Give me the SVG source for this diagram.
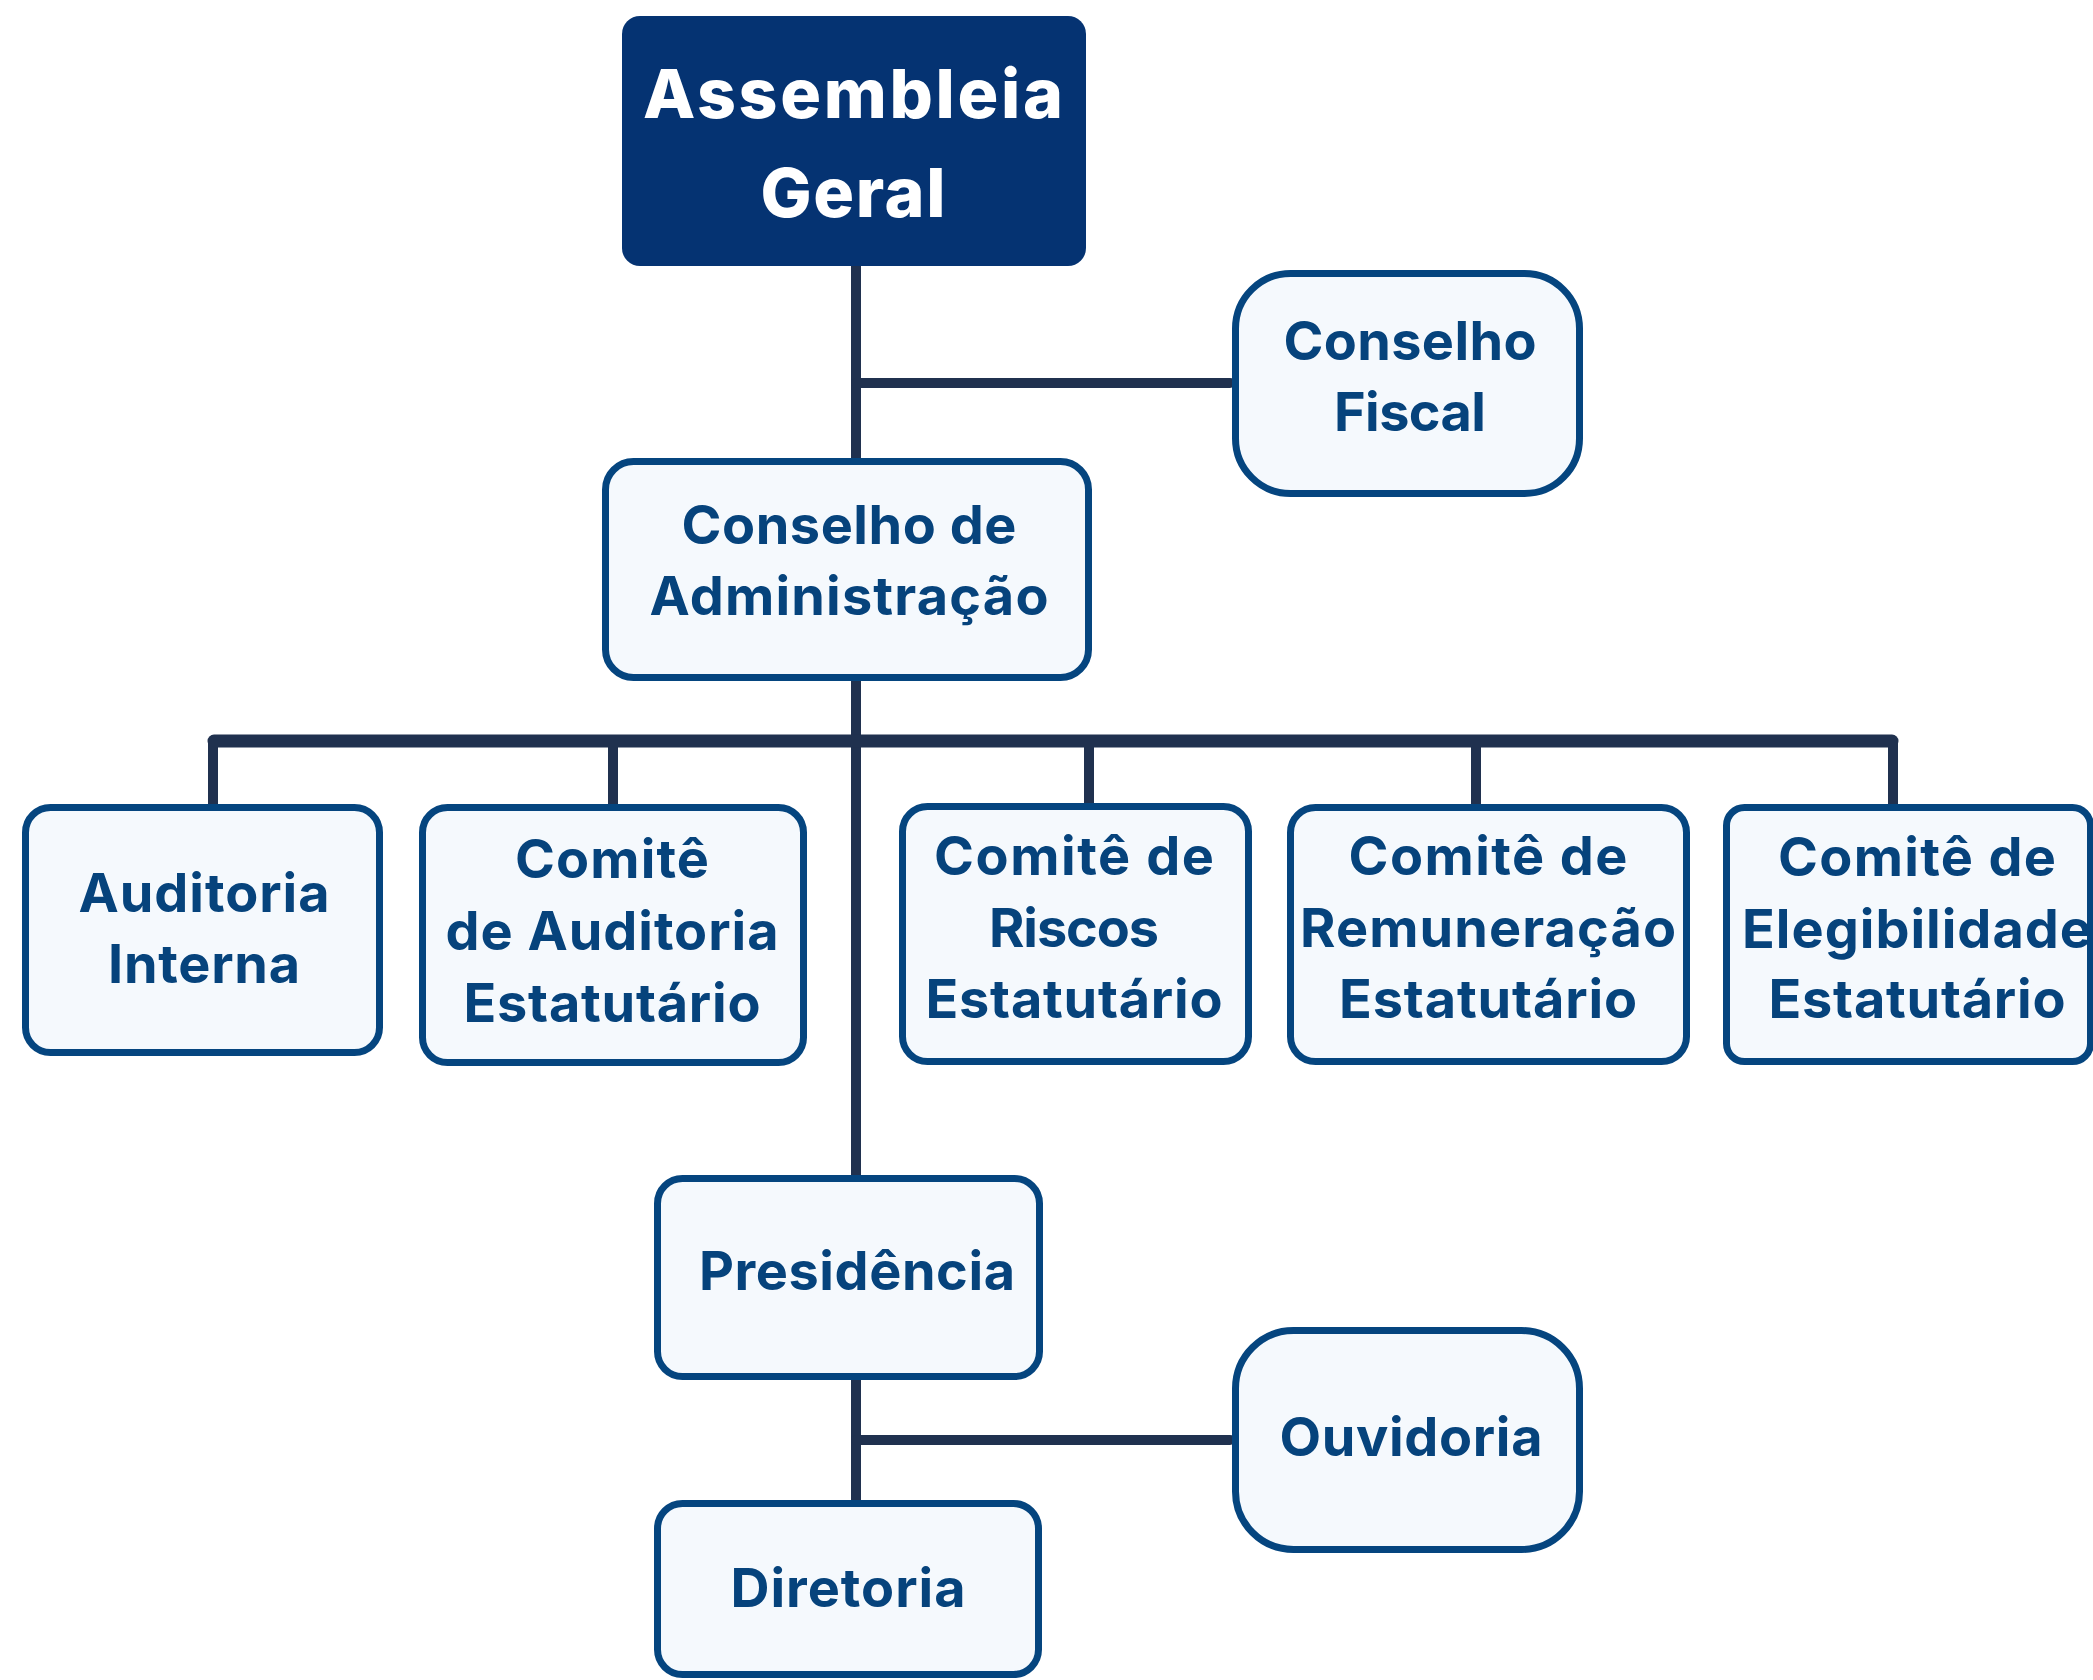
<svg xmlns="http://www.w3.org/2000/svg" width="2093" height="1680" viewBox="0 0 2093 1680">
<style>
.box{fill:#F5F9FD;stroke:#05457F;stroke-width:7}
.t{font-family:Inter,"Open Sans","Liberation Sans",sans-serif;font-weight:700;font-size:54px;fill:#06437C;text-anchor:middle}
.tw{font-family:Inter,"Open Sans","Liberation Sans",sans-serif;font-weight:800;font-size:68px;fill:#FFFFFF;text-anchor:middle}
.ln{stroke:#20314F;stroke-width:10;fill:none;stroke-linecap:butt}
.lr{stroke:#20314F;stroke-width:10;fill:none;stroke-linecap:round}
.bus{stroke:#20314F;stroke-width:13;fill:none;stroke-linecap:round}
</style>
<rect width="2093" height="1680" fill="#FFFFFF"/>
<g id="connectors">
<line class="ln" x1="856" y1="262" x2="856" y2="1505"/>
<line class="lr" x1="856" y1="383" x2="1230" y2="383"/>
<line class="lr" x1="856" y1="1440" x2="1230" y2="1440"/>
<line class="bus" x1="214" y1="741" x2="1892" y2="741"/>
<line class="ln" x1="213" y1="741" x2="213" y2="808"/>
<line class="ln" x1="613" y1="741" x2="613" y2="808"/>
<line class="ln" x1="1089" y1="741" x2="1089" y2="808"/>
<line class="ln" x1="1476" y1="741" x2="1476" y2="808"/>
<line class="ln" x1="1893" y1="741" x2="1893" y2="808"/>
</g>
<g id="assembleia">
<rect x="622" y="16" width="464" height="250" rx="18" fill="#053372"/>
<text class="tw" x="853" y="118" textLength="420">Assembleia</text>
<text class="tw" x="853" y="217" textLength="185">Geral</text>
</g>
<g id="conselho-fiscal">
<rect class="box" x="1235.5" y="273.5" width="344" height="220" rx="55"/>
<text class="t" x="1410" y="360" textLength="253">Conselho</text>
<text class="t" x="1410" y="431" textLength="152">Fiscal</text>
</g>
<g id="conselho-administracao">
<rect class="box" x="605.5" y="461.5" width="483" height="216" rx="28"/>
<text class="t" x="849" y="544" textLength="335">Conselho de</text>
<text class="t" x="849" y="615" textLength="399">Administração</text>
</g>
<g id="auditoria-interna">
<rect class="box" x="25.5" y="807.5" width="354" height="245" rx="25"/>
<text class="t" x="204" y="912" textLength="251">Auditoria</text>
<text class="t" x="204" y="983" textLength="192">Interna</text>
</g>
<g id="comite-auditoria">
<rect class="box" x="422.5" y="807.5" width="381" height="255" rx="25"/>
<text class="t" x="612" y="878" textLength="194">Comitê</text>
<text class="t" x="612" y="950" textLength="333">de Auditoria</text>
<text class="t" x="612" y="1022" textLength="297">Estatutário</text>
</g>
<g id="comite-riscos">
<rect class="box" x="902.5" y="806.5" width="346" height="255" rx="25"/>
<text class="t" x="1074" y="875" textLength="280">Comitê de</text>
<text class="t" x="1074" y="947" textLength="170">Riscos</text>
<text class="t" x="1074" y="1018" textLength="297">Estatutário</text>
</g>
<g id="comite-remuneracao">
<rect class="box" x="1290.5" y="807.5" width="396" height="254" rx="25"/>
<text class="t" x="1488" y="875" textLength="279">Comitê de</text>
<text class="t" x="1488" y="947" textLength="376">Remuneração</text>
<text class="t" x="1488" y="1018" textLength="298">Estatutário</text>
</g>
<g id="comite-elegibilidade">
<rect class="box" x="1726.5" y="807.5" width="364" height="254" rx="18"/>
<text class="t" x="1917" y="876" textLength="278">Comitê de</text>
<text class="t" x="1917" y="948" textLength="350">Elegibilidade</text>
<text class="t" x="1917" y="1018" textLength="297">Estatutário</text>
</g>
<g id="presidencia">
<rect class="box" x="657.5" y="1178.5" width="382" height="198" rx="25"/>
<text class="t" x="857" y="1290" textLength="316">Presidência</text>
</g>
<g id="ouvidoria">
<rect class="box" x="1235.5" y="1330.5" width="344" height="219" rx="58"/>
<text class="t" x="1411" y="1456" textLength="263">Ouvidoria</text>
</g>
<g id="diretoria">
<rect class="box" x="657.5" y="1503.5" width="381" height="171" rx="25"/>
<text class="t" x="848" y="1607" textLength="235">Diretoria</text>
</g>
</svg>
